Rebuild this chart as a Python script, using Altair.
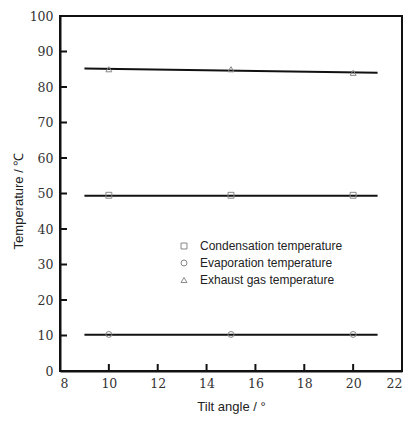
import altair as alt
import pandas as pd

# ---- data ----
tilt = [10, 15, 20]
condensation = [49.5, 49.5, 49.5]
evaporation = [10.3, 10.3, 10.3]
exhaust = [85.0, 85.0, 84.0]

fit_x = [9, 21]
fit_condensation = [49.4, 49.4]
fit_evaporation = [10.2, 10.2]
fit_exhaust = [85.2, 84.0]

x_ticks = [10, 12, 14, 16, 18, 20]
y_ticks = [10, 20, 30, 40, 50, 60, 70, 80, 90]
x_labels = [8, 10, 12, 14, 16, 18, 20, 22]
y_labels = [0, 10, 20, 30, 40, 50, 60, 70, 80, 90, 100]

names = ["Condensation temperature", "Evaporation temperature", "Exhaust gas temperature"]

pts = pd.DataFrame(
    [{"x": t, "y": v, "series": names[0]} for t, v in zip(tilt, condensation)]
    + [{"x": t, "y": v, "series": names[1]} for t, v in zip(tilt, evaporation)]
    + [{"x": t, "y": v, "series": names[2]} for t, v in zip(tilt, exhaust)]
)
fits = pd.DataFrame(
    [{"x": t, "y": v, "series": names[0]} for t, v in zip(fit_x, fit_condensation)]
    + [{"x": t, "y": v, "series": names[1]} for t, v in zip(fit_x, fit_evaporation)]
    + [{"x": t, "y": v, "series": names[2]} for t, v in zip(fit_x, fit_exhaust)]
)
xt = pd.DataFrame({"x": x_ticks})
yt = pd.DataFrame({"y": y_ticks})

W, H = 342, 355
TICK = 7
SERIF = "DejaVu Serif"

xscale = alt.Scale(domain=[8, 22], nice=False, zero=False)
yscale = alt.Scale(domain=[0, 100], nice=False)

common = dict(
    tickSize=0, grid=False, labelOverlap=False,
    labelFont=SERIF, labelFontSize=12.5, labelColor="#333",
    domainColor="#111", domainWidth=2,
    titleFont="Liberation Sans", titleFontSize=13, titleFontWeight="normal",
    titleColor="#222",
)
xaxis = alt.Axis(title="Tilt angle / °", values=x_labels, titlePadding=11, labelPadding=6, **common)
yaxis = alt.Axis(title="Temperature / ℃", values=y_labels, titlePadding=4, labelPadding=7,
                 titleY=H / 2 + 7, **common)

lines = alt.Chart(fits).mark_line(color="#111", strokeWidth=2).encode(
    x=alt.X("x:Q", scale=xscale, axis=xaxis),
    y=alt.Y("y:Q", scale=yscale, axis=yaxis),
    detail="series:N",
)

points = alt.Chart(pts).mark_point(filled=False, color="#888", size=35, strokeWidth=1, opacity=1).encode(
    x=alt.X("x:Q", scale=xscale, axis=xaxis),
    y=alt.Y("y:Q", scale=yscale, axis=yaxis),
    shape=alt.Shape(
        "series:N",
        scale=alt.Scale(domain=names, range=["square", "circle", "triangle-up"]),
        legend=alt.Legend(
            title=None, orient="none", legendX=118, legendY=224,
            labelFont="Liberation Sans", labelFontSize=12, labelColor="#222",
            symbolStrokeColor="#888", symbolFillColor="transparent", symbolSize=35,
            symbolStrokeWidth=1, rowPadding=5, labelOffset=10,
        ),
    ),
)

xticks = alt.Chart(xt).mark_rule(color="#111", strokeWidth=2).encode(
    x=alt.X("x:Q", scale=xscale, axis=xaxis), y=alt.value(H), y2=alt.value(H - TICK)
)
yticks = alt.Chart(yt).mark_rule(color="#111", strokeWidth=2).encode(
    y=alt.Y("y:Q", scale=yscale, axis=yaxis), x=alt.value(0), x2=alt.value(TICK)
)

chart = alt.layer(lines, points, xticks, yticks).properties(
    width=W, height=H,
    autosize=alt.AutoSizeParams(type="none"),
    padding={"left": 60, "top": 16, "right": 7, "bottom": 62},
    background="white",
).configure_view(
    stroke="#111", strokeWidth=2
)

chart.save("out.html", embed_options={"renderer": "svg", "actions": False})
